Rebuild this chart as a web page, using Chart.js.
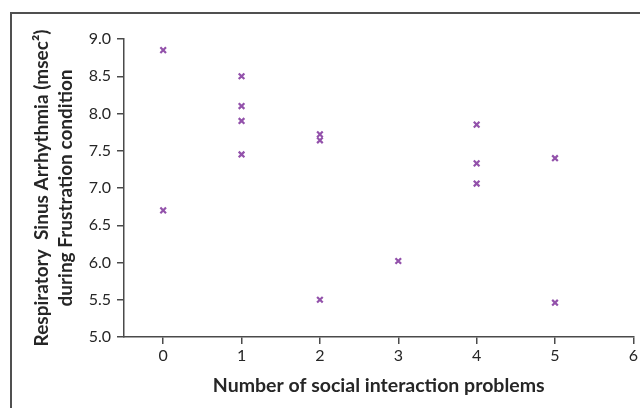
<!DOCTYPE html>
<html>
<head>
<meta charset="utf-8">
<script src="https://cdn.jsdelivr.net/npm/chart.js@4/dist/chart.umd.min.js"></script>
<style>
  html, body { margin: 0; padding: 0; background: #ffffff; overflow: hidden; }
  #wrap { position: relative; width: 640px; height: 408px; }
  #frame { position: absolute; left: 10px; top: 12px; width: 700px; height: 500px;
           border: 2px solid #505050; box-sizing: border-box; pointer-events: none; }
  canvas { position: absolute; left: 0; top: 0; }
</style>
</head>
<body>
<div id="wrap">
  <canvas id="c" width="640" height="408"></canvas>
  <div id="frame"></div>
</div>
<script>
// Number of social interaction problems (x) and RSA during Frustration (y)
const problems = [0, 0, 1, 1, 1, 1, 2, 2, 2, 3, 4, 4, 4, 5, 5];
const rsaValues = [8.85, 6.70, 8.50, 8.10, 7.90, 7.45, 7.72, 7.64, 5.50, 6.02, 7.85, 7.33, 7.06, 7.40, 5.46];
const xTicks = [0, 1, 2, 3, 4, 5, 6];
const yTicks = [5.0, 5.5, 6.0, 6.5, 7.0, 7.5, 8.0, 8.5, 9.0];
const xTitle = 'Number of social interaction problems';
const yTitle = ['Respiratory  Sinus Arrhythmia (msec\u00B2)', 'during Frustration condition'];

const points = problems.map((x, i) => ({ x: x, y: rsaValues[i] }));
const axisColor = '#4a4a4a';
const textColor = '#262626';

new Chart(document.getElementById('c'), {
  type: 'scatter',
  data: {
    datasets: [{
      data: points,
      pointStyle: 'crossRot',
      pointRadius: 4,
      pointBorderWidth: 2.2,
      borderColor: '#9352ab',
      backgroundColor: '#9352ab'
    }]
  },
  options: {
    responsive: false,
    animation: false,
    events: [],
    layout: { padding: { left: 0, right: 6, top: 39, bottom: 0 } },
    plugins: { legend: { display: false }, tooltip: { enabled: false } },
    scales: {
      x: {
        type: 'linear',
        min: -0.5, max: 6,
        afterBuildTicks: s => { s.ticks = xTicks.map(v => ({ value: v })); },
        afterFit: s => { s.height = 71; },
        border: { display: true, color: axisColor, width: 1.5 },
        grid: { display: true, drawOnChartArea: false, drawTicks: true, tickLength: 7, color: axisColor, lineWidth: 1.5 },
        ticks: { color: textColor, font: { family: 'Lato', size: 16 }, padding: 2, maxRotation: 0 },
        title: { display: true, text: xTitle, color: textColor,
                 font: { family: 'Lato', size: 19.5, weight: 'bold', lineHeight: 1.2 }, padding: { top: 0, bottom: 11 } }
      },
      y: {
        type: 'linear',
        min: 5, max: 9,
        afterBuildTicks: s => { s.ticks = yTicks.map(v => ({ value: v })); },
        afterFit: s => { s.width = 124; },
        border: { display: true, color: axisColor, width: 1.5 },
        grid: { display: true, drawOnChartArea: false, drawTicks: true, tickLength: 7, color: axisColor, lineWidth: 1.5 },
        ticks: { color: textColor, font: { family: 'Lato', size: 16 }, padding: 6,
                 callback: v => Number(v).toFixed(1) },
        title: { display: true, text: yTitle, color: textColor,
                 font: { family: 'Lato', size: 19, weight: 'bold', lineHeight: 1.25 }, padding: { top: 30, bottom: 0 } }
      }
    }
  }
});
</script>
</body>
</html>
